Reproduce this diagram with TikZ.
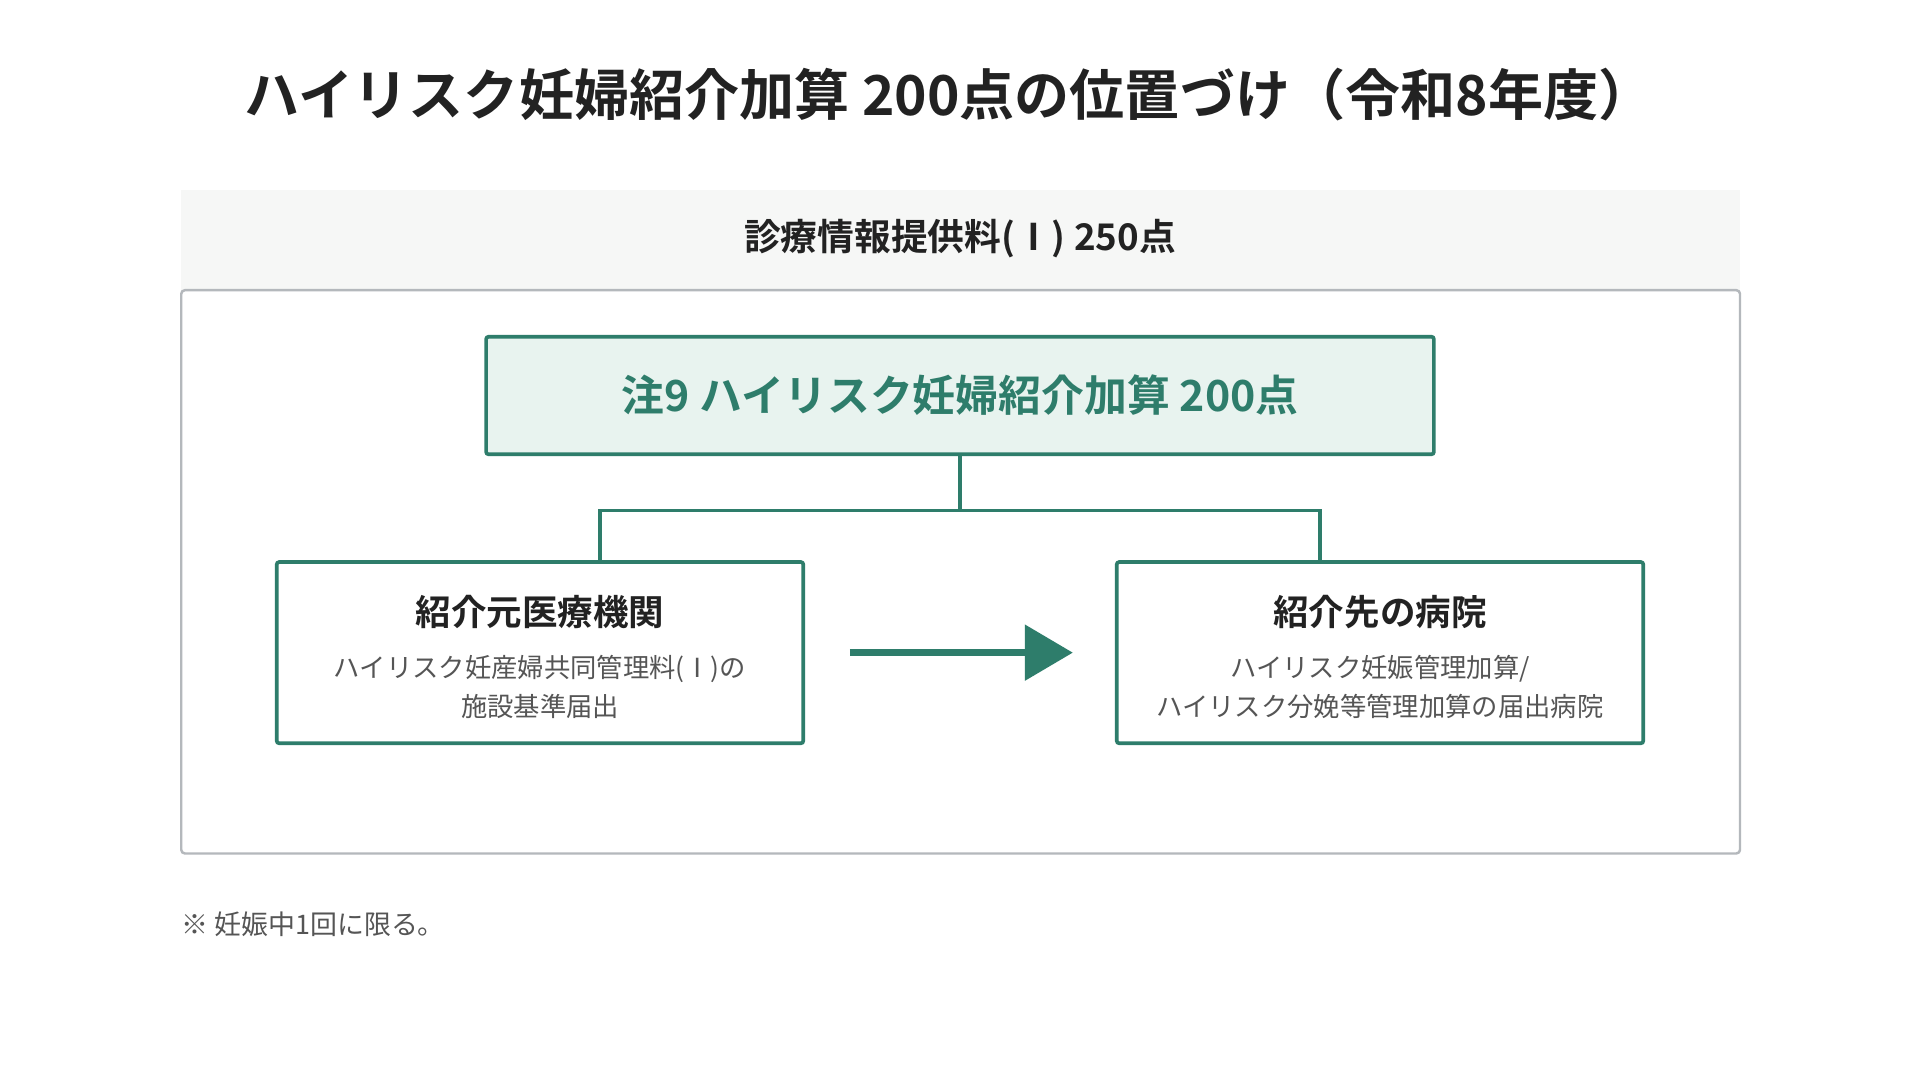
\documentclass[tikz,border=0pt]{standalone}
\usepackage{fontspec}
\setmainfont{Noto Sans CJK JP}[BoldFont={Noto Sans CJK JP Bold}]
\newcommand\jpb{\bfseries}
\definecolor{grn}{HTML}{2E7D6B}
\definecolor{grnf}{HTML}{E8F3EF}
\definecolor{txt}{HTML}{222222}
\definecolor{gry}{HTML}{555555}
\definecolor{bdr}{HTML}{B4B8BC}
\definecolor{band}{HTML}{F6F7F6}
\begin{document}
\begin{tikzpicture}[x=1pt,y=-1pt,
  box/.style={draw=grn,line width=3pt,rounded corners=2pt},
  conn/.style={draw=grn,line width=3pt},
  sub/.style={text=gry,font=\fontsize{21.5}{32}\selectfont,align=center}]
\useasboundingbox[fill=white] (0,0) rectangle (1568,882);
\node[text=txt,font=\jpb\fontsize{45}{50}\selectfont] (title) at (775,77) {ハイリスク妊婦紹介加算 200点の位置づけ（令和8年度）};
\path[fill=band] (148,155) rectangle (1421,237);
\node[text=txt,font=\jpb\fontsize{30}{34}\selectfont] (hdr) at (784,195) {診療情報提供料(Ⅰ) 250点};
\draw[draw=bdr,line width=2pt,rounded corners=3pt] (148,237) rectangle (1421,697);
\draw[box,fill=grnf] (397,275) rectangle (1171,371);
\node[text=grn,font=\jpb\fontsize{35}{40}\selectfont] (top) at (784,323) {注9 ハイリスク妊婦紹介加算 200点};
\draw[box] (226,459) rectangle (656,607);
\draw[box] (912,459) rectangle (1342,607);
\coordinate (tb) at (784,371);
\coordinate (lt) at (490,459);
\coordinate (rt) at (1078,459);
\draw[conn] (tb) -- (784,417) -| (lt);
\draw[conn] (784,417) -| (rt);
\node[text=txt,font=\jpb\fontsize{29}{34}\selectfont] (lh) at (441,500) {紹介元医療機関};
\node[sub] (ls) at (441,561) {ハイリスク妊産婦共同管理料(Ⅰ)の\\施設基準届出};
\node[text=txt,font=\jpb\fontsize{29}{34}\selectfont] (rh) at (1127,500) {紹介先の病院};
\node[sub] (rs) at (1127,561) {ハイリスク妊娠管理加算/\\ハイリスク分娩等管理加算の届出病院};
\coordinate (a1) at (694,533);
\coordinate (a2) at (840,533);
\draw[grn,line width=6pt] (a1) -- (a2);
\fill[grn] (837,510) -- (876,533) -- (837,556) -- cycle;
\node[anchor=west,text=gry,font=\fontsize{22}{26}\selectfont,inner sep=0] (note) at (148,755) {※ 妊娠中1回に限る。};
\end{tikzpicture}
\end{document}
